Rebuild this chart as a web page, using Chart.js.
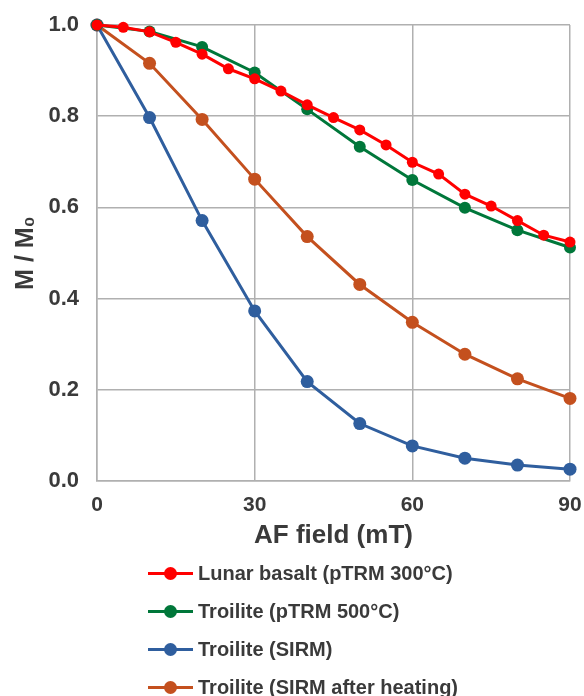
<!DOCTYPE html>
<html>
<head>
<meta charset="utf-8">
<script src="https://cdn.jsdelivr.net/npm/chart.js@4"></script>
<style>
  body { margin: 0; background: #fff; font-family: "Liberation Sans", Arial, sans-serif; }
  #wrap { position: relative; width: 584px; height: 696px; overflow: hidden; }
  #chart-box { position: absolute; left: 0; top: 0; width: 584px; height: 560px; }
  #legend { position: absolute; left: 148px; top: 554px; }
  .item { display: flex; align-items: center; height: 38px; font-weight: bold; font-size: 20px; color: #3a3a3a; white-space: nowrap; }
  .sym { position: relative; width: 45px; height: 3px; margin-right: 5px; }
  .sym i { position: absolute; left: 16px; top: -5px; width: 13px; height: 13px; border-radius: 50%; }
</style>
</head>
<body>
<div id="wrap">
  <div id="chart-box"><canvas id="c"></canvas></div>
  <div id="legend"></div>
</div>
<script>
// AF field steps (mT)
const fieldFine = [0, 5, 10, 15, 20, 25, 30, 35, 40, 45, 50, 55, 60, 65, 70, 75, 80, 85, 90];
const fieldCoarse = [0, 10, 20, 30, 40, 50, 60, 70, 80, 90];

// M / M0 values
const lunarBasalt = [1.0, 0.995, 0.985, 0.962, 0.936, 0.904, 0.882, 0.855, 0.825, 0.797, 0.770, 0.737, 0.699, 0.673, 0.629, 0.603, 0.571, 0.539, 0.524];
const troilitePTRM = [1.0, 0.986, 0.952, 0.896, 0.815, 0.733, 0.660, 0.599, 0.550, 0.512];
const troiliteSIRM = [1.0, 0.797, 0.571, 0.373, 0.218, 0.126, 0.077, 0.050, 0.035, 0.026];
const troiliteHeated = [1.0, 0.916, 0.793, 0.662, 0.536, 0.431, 0.348, 0.278, 0.224, 0.181];

const seriesNames = ['Lunar basalt (pTRM 300°C)', 'Troilite (pTRM 500°C)', 'Troilite (SIRM)', 'Troilite (SIRM after heating)'];
const xTicks = [0, 30, 60, 90];
const yTicks = [0, 0.2, 0.4, 0.6, 0.8, 1.0];

const tickColor = '#3a3a3a';
const gridColor = '#b0b0b0';

function pts(xs, ys) {
  return xs.map((x, i) => ({ x: x, y: ys[i] }));
}

function ds(label, data, color, r) {
  return {
    label: label,
    data: data,
    borderColor: color,
    backgroundColor: color,
    borderWidth: 3,
    pointRadius: r,
    pointHoverRadius: r,
    pointBorderWidth: 0,
    tension: 0,
    clip: false
  };
}

const chart = new Chart(document.getElementById('c'), {
  type: 'line',
  data: {
    datasets: [
      ds(seriesNames[0], pts(fieldFine, lunarBasalt), '#ff0000', 5.5),
      ds(seriesNames[1], pts(fieldCoarse, troilitePTRM), '#00773a', 6),
      ds(seriesNames[2], pts(fieldCoarse, troiliteSIRM), '#2f5e9e', 6.5),
      ds(seriesNames[3], pts(fieldCoarse, troiliteHeated), '#c4501e', 6.5)
    ]
  },
  options: {
    responsive: true,
    maintainAspectRatio: false,
    animation: false,
    layout: { padding: { top: 25, right: 14, left: 0, bottom: 0 } },
    plugins: {
      legend: { display: false },
      tooltip: { enabled: false }
    },
    scales: {
      x: {
        type: 'linear',
        min: 0,
        max: 90,
        afterFit: function (scale) {
          scale.height = 79;
          scale.paddingLeft = 0;
          scale.paddingRight = 0;
        },
        afterBuildTicks: function (scale) { scale.ticks = xTicks.map(v => ({ value: v })); },
        grid: { color: gridColor, lineWidth: 1.5, drawTicks: false },
        border: { color: gridColor, width: 1.5 },
        ticks: {
          color: tickColor,
          padding: 12,
          font: { family: 'Liberation Sans', size: 21, weight: 'bold' }
        },
        title: {
          display: true,
          text: 'AF field (mT)',
          color: tickColor,
          padding: { top: 0, bottom: 9 },
          font: { family: 'Liberation Sans', size: 26, weight: 'bold' }
        }
      },
      y: {
        min: 0,
        max: 1,
        afterFit: function (scale) {
          scale.width = 97;
          scale.paddingTop = 0;
          scale.paddingBottom = 0;
        },
        afterBuildTicks: function (scale) { scale.ticks = yTicks.map(v => ({ value: v })); },
        grid: { color: gridColor, lineWidth: 1.5, drawTicks: false },
        border: { color: gridColor, width: 1.5 },
        ticks: {
          color: tickColor,
          padding: 18,
          font: { family: 'Liberation Sans', size: 22, weight: 'bold' },
          callback: function (v) { return v.toFixed(1); }
        },
        title: {
          display: true,
          text: 'M / M\u2080',
          color: tickColor,
          padding: { top: 11, bottom: 0 },
          font: { family: 'Liberation Sans', size: 25, weight: 'bold' }
        }
      }
    }
  }
});

// legend, stacked vertically below the plot
const legendEl = document.getElementById('legend');
chart.data.datasets.forEach(function (d) {
  const row = document.createElement('div');
  row.className = 'item';
  row.innerHTML = '<span class="sym" style="background:' + d.borderColor + '"><i style="background:' + d.borderColor + '"></i></span>' + d.label;
  legendEl.appendChild(row);
});
</script>
</body>
</html>
